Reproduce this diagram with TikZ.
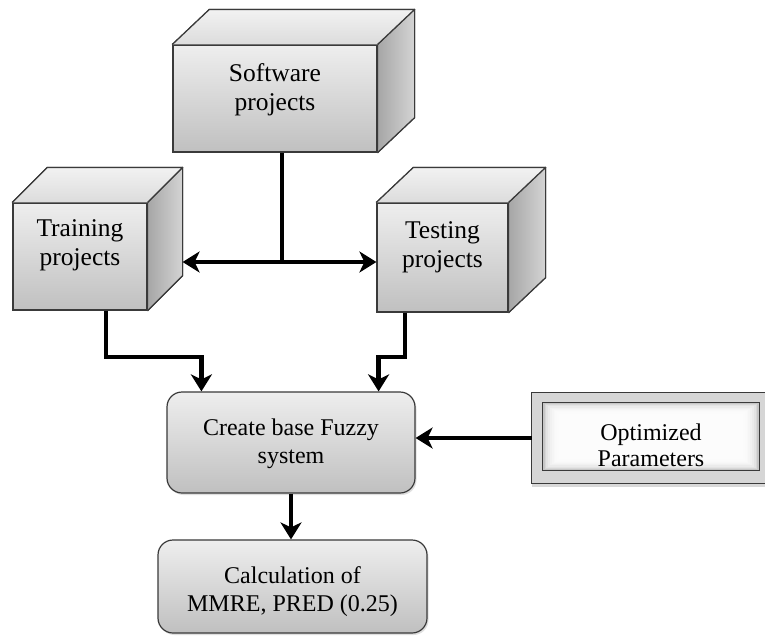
\documentclass[tikz,border=0pt]{standalone}
\usepackage{fontspec}
\setmainfont{Liberation Serif}
\usetikzlibrary{arrows.meta,calc,shadows}
\definecolor{edgec}{HTML}{3A3A3A}
\definecolor{facetop}{HTML}{EEEEEE}
\definecolor{facebot}{HTML}{C0C0C0}
\definecolor{sidel}{HTML}{A6A6A6}
\definecolor{sider}{HTML}{D4D4D4}
\definecolor{topa}{HTML}{DCDCDC}
\definecolor{topb}{HTML}{F2F2F2}
\definecolor{frame}{HTML}{D6D6D6}
\tikzset{
  face/.style={draw=edgec, line width=1.2pt, top color=facetop, bottom color=facebot, inner sep=0pt},
  topface/.style={draw=edgec, line width=1.2pt, line join=round, bottom color=topa, top color=topb},
  sideface/.style={draw=edgec, line width=1.2pt, line join=round, left color=sidel, right color=sider},
  lbl/.style={font=\fontsize{24}{28}\selectfont, align=center, text=black, inner sep=0pt},
  cubelbl/.style={lbl, font=\fontsize{25.5}{29}\selectfont},
  rbox/.style={draw=edgec, line width=1.2pt, rounded corners=15pt, top color=facetop, bottom color=facebot,
    drop shadow={opacity=0.25, shadow xshift=1.5pt, shadow yshift=-2pt}},
  wire/.style={line width=4.5pt},
  conn/.style={line width=4.5pt, -{Stealth[length=17pt,width=21pt,inset=5pt]}},
  dconn/.style={line width=4.5pt, {Stealth[length=17pt,width=21pt,inset=5pt]}-{Stealth[length=17pt,width=21pt,inset=5pt]}},
}
\begin{document}
\begin{tikzpicture}[x=1pt,y=-1pt]
\useasboundingbox (0,0) rectangle (765,637);
\fill[white] (0,0) rectangle (765,637);

% Software projects cube
\node[face, minimum width=204pt, minimum height=107pt,
  label={[cubelbl, yshift=9pt]center:{Software\\projects}}] (sw) at (275,98.5) {};
\fill[topface] (sw.north west) -- ++(37,-35) -- ($(sw.north east)+(37,-35)$) -- (sw.north east) -- cycle;
\fill[sideface] (sw.north east) -- ++(37,-35) -- ($(sw.south east)+(37,-35)$) -- (sw.south east) -- cycle;
\draw[topface,fill=none] (sw.north west) -- ++(37,-35) -- ($(sw.north east)+(37,-35)$) -- (sw.north east);
\draw[sideface,fill=none] ($(sw.north east)+(37,-35)$) -- ($(sw.south east)+(37,-35)$) -- (sw.south east);

% Training projects cube
\node[face, minimum width=134pt, minimum height=107pt,
  label={[cubelbl, yshift=11pt]center:{Training\\projects}}] (tr) at (80,256.5) {};
\fill[topface] (tr.north west) -- ++(35,-35) -- ($(tr.north east)+(35,-35)$) -- (tr.north east) -- cycle;
\fill[sideface] (tr.north east) -- ++(35,-35) -- ($(tr.south east)+(35,-35)$) -- (tr.south east) -- cycle;
\draw[topface,fill=none] (tr.north west) -- ++(35,-35) -- ($(tr.north east)+(35,-35)$) -- (tr.north east);
\draw[sideface,fill=none] ($(tr.north east)+(35,-35)$) -- ($(tr.south east)+(35,-35)$) -- (tr.south east);

% Testing projects cube
\node[face, minimum width=131pt, minimum height=109pt,
  label={[cubelbl, yshift=10pt]center:{Testing\\projects}}] (te) at (442.5,257.5) {};
\fill[topface] (te.north west) -- ++(37,-35) -- ($(te.north east)+(37,-35)$) -- (te.north east) -- cycle;
\fill[sideface] (te.north east) -- ++(37,-35) -- ($(te.south east)+(37,-35)$) -- (te.south east) -- cycle;
\draw[topface,fill=none] (te.north west) -- ++(37,-35) -- ($(te.north east)+(37,-35)$) -- (te.north east);
\draw[sideface,fill=none] ($(te.north east)+(37,-35)$) -- ($(te.south east)+(37,-35)$) -- (te.south east);

% Create base Fuzzy system
\node[rbox, minimum width=248pt, minimum height=101pt,
  label={[lbl, yshift=-1pt]center:{Create base Fuzzy\\system}}] (cf) at (291,442.5) {};

% Calculation
\node[rbox, minimum width=269pt, minimum height=93pt,
  label={[lbl, yshift=-5pt]center:{Calculation of\\MMRE, PRED (0.25)}}] (calc) at (292.5,586.5) {};

% Optimized Parameters
\node[fill=frame, minimum width=233pt, minimum height=90pt, inner sep=0pt,
  drop shadow={opacity=0.3, shadow xshift=0pt, shadow yshift=-4pt}] (opo) at (648.5,438) {};
\draw[draw=edgec, line width=1.2pt] (opo.north east) -- (opo.north west) -- (opo.south west) -- (opo.south east);
\node[fill=gray!45, minimum width=216pt, minimum height=67pt, inner sep=0pt] (op) at (651,436.5) {};
\foreach \k in {1,...,9}
  \fill[white, opacity=0.3] ($(op.south west)+(\k*1.8,-\k*1.2)$) rectangle ($(op.north east)+(-\k*1.8,\k*1.2)$);
\draw[draw=edgec, line width=1.2pt] (op.south west) rectangle (op.north east);
\node[lbl, font=\fontsize{24}{26}\selectfont, yshift=-9pt] (optxt) at (op.center) {Optimized\\Parameters};

% connectors
\coordinate (j) at (282,262);
\coordinate (trs) at ($(tr.north east)+(35,0)$);
\draw[wire] (sw.south -| j) -- (j);
\draw[dconn] (trs |- j) -- (te.west |- j);
\coordinate (b1) at (106,357);
\draw[conn] (tr.south -| b1) -- (b1) -| ($(cf.north west)+(35,0)$);
\coordinate (b2) at (405,357);
\draw[conn] (te.south -| b2) -- (b2) -| ($(cf.north east)+(-37,0)$);
\draw[conn] (cf.south) -- (calc.north -| cf.south);
\draw[conn] (opo.west) -- (opo.west -| cf.east);
\end{tikzpicture}
\end{document}
